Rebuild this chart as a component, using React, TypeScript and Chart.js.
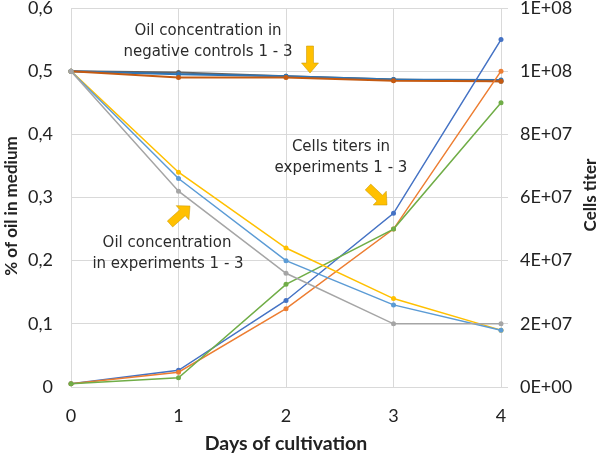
import React, { useEffect, useRef } from "react";
import { Chart, registerables } from "chart.js";

Chart.register(...registerables);

const days = ["0", "1", "2", "3", "4"];

// Oil concentration in negative controls (left axis, %)
const ncOilGray = [0.5, 0.498, 0.492, 0.487, 0.484];
const ncOilBlue = [0.5, 0.495, 0.492, 0.487, 0.486];
const ncOilOrange = [0.5, 0.49, 0.49, 0.485, 0.484];

// Oil concentration in experiments (left axis, %)
const expOilYellow = [0.5, 0.34, 0.22, 0.14, 0.09];
const expOilBlue = [0.5, 0.33, 0.2, 0.13, 0.09];
const expOilGray = [0.5, 0.31, 0.18, 0.1, 0.1];

// Cells titers in experiments (right axis)
const titerBlue = [1e6, 5.3e6, 27.4e6, 55e6, 110e6];
const titerOrange = [1e6, 4.7e6, 24.8e6, 50e6, 100e6];
const titerGreen = [1e6, 2.9e6, 32.5e6, 50e6, 90e6];

const leftTitle = "% of oil in medium";
const rightTitle = "Cells titer";
const bottomTitle = "Days of cultivation";
const noteNegative = ["Oil concentration in", "negative controls 1 - 3"];
const noteTiters = ["Cells titers in", "experiments 1 - 3"];
const noteExpOil = ["Oil concentration", "in experiments 1 - 3"];

const TICK_FONT = { family: "Lato, 'Open Sans', sans-serif", size: 18 };
const GRID = "#d9d9d9";
const TEXT = "#222222";

function fmtPct(v: number) {
  if (Math.abs(v) < 1e-9) return "0";
  return v.toFixed(1).replace(".", ",");
}
function fmtExp(v: number) {
  if (Math.abs(v) < 1e-3) return "0E+00";
  const e = Math.floor(Math.log10(v) + 1e-9);
  const m = Math.round(v / Math.pow(10, e));
  return `${m}E+${String(e).padStart(2, "0")}`;
}

function drawArrow(
  ctx: CanvasRenderingContext2D,
  x1: number, y1: number, x2: number, y2: number,
  shaftW: number, headW: number, headL: number
) {
  const dx = x2 - x1, dy = y2 - y1;
  const len = Math.hypot(dx, dy);
  const ux = dx / len, uy = dy / len;
  const px = -uy, py = ux;
  const bx = x2 - ux * headL, by = y2 - uy * headL;
  const pts = [
    [x1 + px * shaftW / 2, y1 + py * shaftW / 2],
    [bx + px * shaftW / 2, by + py * shaftW / 2],
    [bx + px * headW / 2, by + py * headW / 2],
    [x2, y2],
    [bx - px * headW / 2, by - py * headW / 2],
    [bx - px * shaftW / 2, by - py * shaftW / 2],
    [x1 - px * shaftW / 2, y1 - py * shaftW / 2],
  ];
  ctx.beginPath();
  pts.forEach(([x, y], i) => (i ? ctx.lineTo(x, y) : ctx.moveTo(x, y)));
  ctx.closePath();
  ctx.fillStyle = "#ffc000";
  ctx.fill();
  ctx.strokeStyle = "rgba(200,150,0,0.7)";
  ctx.lineWidth = 0.75;
  ctx.stroke();
}

const overlayPlugin = {
  id: "overlay",
  afterDraw(chart: any) {
    const ctx: CanvasRenderingContext2D = chart.ctx;
    ctx.save();
    ctx.fillStyle = TEXT;
    ctx.font = "bold 17px Lato, 'Open Sans', sans-serif";
    ctx.textAlign = "center";
    ctx.textBaseline = "middle";
    ctx.save();
    ctx.translate(12, 206);
    ctx.rotate(-Math.PI / 2);
    ctx.fillText(leftTitle, 0, 0);
    ctx.restore();
    ctx.save();
    ctx.translate(591, 195);
    ctx.rotate(-Math.PI / 2);
    ctx.fillText(rightTitle, 0, 0);
    ctx.restore();
    ctx.font = "bold 19.5px Lato, 'Open Sans', sans-serif";
    ctx.fillText(bottomTitle, 286, 444);

    ctx.font = "15px 'DejaVu Sans', Verdana, sans-serif";
    ctx.fillStyle = "#2b2b2b";
    ctx.fillText(noteNegative[0], 208, 31);
    ctx.fillText(noteNegative[1], 208, 52);
    ctx.fillText(noteTiters[0], 341, 147);
    ctx.fillText(noteTiters[1], 341, 168);
    ctx.fillText(noteExpOil[0], 167, 243);
    ctx.fillText(noteExpOil[1], 168, 264);

    drawArrow(ctx, 310, 46, 310, 73, 7, 17, 10);
    drawArrow(ctx, 170, 224, 190, 206, 8, 19, 10);
    drawArrow(ctx, 368, 187, 387, 205, 8, 19, 10);
    ctx.restore();
  },
};

function line(label: string, data: number[], color: string, axis: string, width = 1.5) {
  return {
    label,
    data,
    yAxisID: axis,
    borderColor: color,
    backgroundColor: color,
    borderWidth: width,
    pointRadius: 2.5,
    pointBorderWidth: 0,
    pointBackgroundColor: color,
    tension: 0,
  };
}

function fitV(width: number) {
  return (s: any) => {
    s.width = width;
    s.paddingTop = 0;
    s.paddingBottom = 0;
  };
}

export default function App() {
  const ref = useRef<HTMLCanvasElement>(null);
  useEffect(() => {
    if (!ref.current) return;
    const chart = new Chart(ref.current, {
      type: "line",
      data: {
        labels: days,
        datasets: [
          line("Exp oil 1", expOilGray, "#a5a5a5", "y"),
          line("Exp oil 2", expOilBlue, "#5b9bd5", "y"),
          line("Exp oil 3", expOilYellow, "#ffc000", "y"),
          line("Titer 3", titerGreen, "#70ad47", "y1"),
          line("Titer 2", titerOrange, "#ed7d31", "y1"),
          line("Titer 1", titerBlue, "#4472c4", "y1"),
          line("NC oil 3", ncOilOrange, "#c55a11", "y", 2),
          line("NC oil 2", ncOilBlue, "#2e75b6", "y", 2),
          line("NC oil 1", ncOilGray, "#636363", "y", 2),
        ],
      },
      options: {
        responsive: false,
        animation: false,
        layout: { padding: { top: 8, left: 0, right: 0, bottom: 0 } },
        plugins: { legend: { display: false }, tooltip: { enabled: false } },
        scales: {
          x: {
            type: "category",
            offset: false,
            grid: { color: GRID, drawTicks: false },
            border: { color: GRID },
            ticks: { color: TEXT, font: TICK_FONT, padding: 18, maxRotation: 0 },
            afterFit: (s: any) => { s.height = 69; s.paddingLeft = 0; s.paddingRight = 0; },
          },
          y: {
            position: "left",
            min: 0,
            max: 0.6,
            ticks: { stepSize: 0.1, color: TEXT, font: TICK_FONT, padding: 18, callback: (v: any) => fmtPct(Number(v)) },
            grid: { color: GRID, drawTicks: false },
            border: { color: GRID },
            afterFit: fitV(71),
          },
          y1: {
            position: "right",
            min: 0,
            max: 1.2e8,
            ticks: { stepSize: 2e7, color: TEXT, font: TICK_FONT, padding: 12, callback: (v: any) => fmtExp(Number(v)) },
            grid: { color: GRID, drawOnChartArea: false, drawTicks: true, tickLength: 7, tickColor: GRID },
            border: { color: GRID },
            afterFit: fitV(99),
          },
        },
      },
      plugins: [overlayPlugin],
    } as any);
    return () => chart.destroy();
  }, []);
  return (
    <div style={{ position: "absolute", left: 0, top: 0, width: 600, height: 456, background: "#fff" }}>
      <canvas ref={ref} width={600} height={456} style={{ display: "block" }} />
    </div>
  );
}
